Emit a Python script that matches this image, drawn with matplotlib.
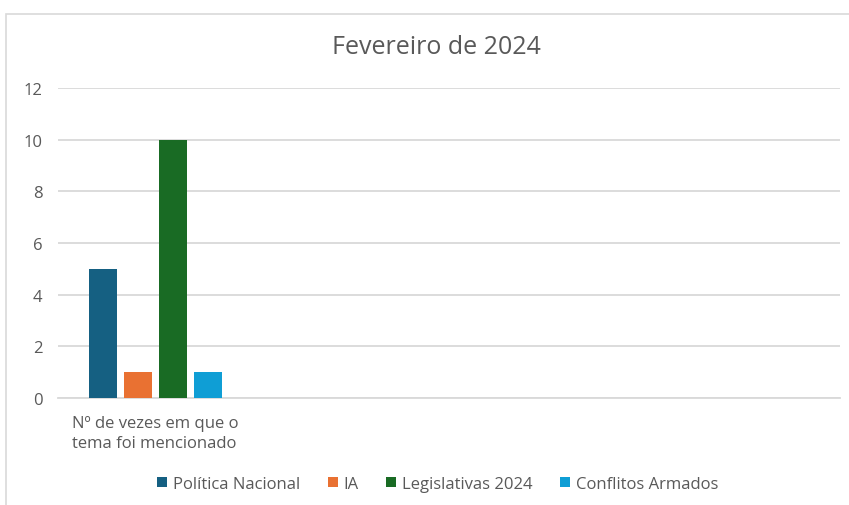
import matplotlib.pyplot as plt
from matplotlib.patches import Rectangle, Patch

plt.rcParams['font.family'] = ['Open Sans', 'DejaVu Sans']

# dados do gráfico
categorias = ['Nº de vezes em que o\ntema foi mencionado', '', '', '']
temas = ['Política Nacional', 'IA', 'Legislativas 2024', 'Conflitos Armados']
valores = [[5, None, None, None],
           [1, None, None, None],
           [10, None, None, None],
           [1, None, None, None]]
cores = ['#156082', '#E97132', '#196B24', '#0F9ED5']

fig = plt.figure(figsize=(8.49, 5.06), dpi=100)
ax = fig.add_axes([58/849, 1 - 399/506, 782/849, 310/506])

# moldura da área do gráfico
fig.patches.append(Rectangle((6/849, -0.05), 1.0, 1 - 15/506 + 0.05,
                             transform=fig.transFigure, fill=False,
                             edgecolor='#d9d9d9', linewidth=1.2))

largura = 28 / 195.5
passo = 35 / 195.5
for i, (tema, serie) in enumerate(zip(temas, valores)):
    xs = [j + (i - 1.5) * passo for j, v in enumerate(serie) if v is not None]
    ys = [v for v in serie if v is not None]
    ax.bar(xs, ys, width=largura, color=cores[i], label=tema, zorder=3)

ax.set_xlim(-0.5, len(categorias) - 0.5)
ax.set_ylim(0, 12)
ax.set_yticks(range(0, 13, 2))
ax.set_xticks(range(len(categorias)))
ax.set_xticklabels(categorias, color='#595959', fontsize=12, linespacing=1.32,
                   multialignment='left')
ax.tick_params(axis='both', length=0, labelcolor='#595959', labelsize=12)
ax.tick_params(axis='y', pad=11)
ax.tick_params(axis='x', pad=12)
ax.grid(axis='y', color='#d9d9d9', linewidth=1.3, zorder=0)
for lado in ['top', 'right', 'left']:
    ax.spines[lado].set_visible(False)
ax.spines['bottom'].set_color('#d9d9d9')
ax.spines['bottom'].set_linewidth(1.3)

fig.text(436/849, 1 - 47/506, 'Fevereiro de 2024', ha='center', va='center',
         fontsize=18, color='#595959')

alcas = [Patch(facecolor=c) for c in cores]
fig.legend(alcas, temas, loc='center', bbox_to_anchor=(438/849, 1 - 485/506),
           ncol=4, frameon=False, fontsize=12, labelcolor='#595959',
           handlelength=0.6, handleheight=0.6, handletextpad=0.35,
           columnspacing=1.65)

fig.savefig('out.png', dpi=100)
